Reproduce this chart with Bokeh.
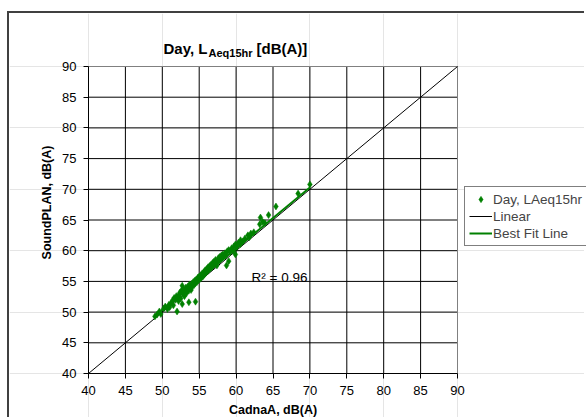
import math
from bokeh.plotting import figure
from bokeh.models import (Range1d, FixedTicker, Label, Legend, LegendItem,
                          LinearAxis)
from bokeh.embed import file_html
from bokeh.resources import INLINE

# ---------------- data ----------------
TITLE_MAIN = "Day, L"
TITLE_SUB = "Aeq15hr"
TITLE_TAIL = "[dB(A)]"
X_LABEL = "CadnaA, dB(A)"
Y_LABEL = "SoundPLAN, dB(A)"
SERIES_NAME = "Day, LAeq15hr"
LINEAR_NAME = "Linear"
FIT_NAME = "Best Fit Line"
R2_TEXT = "R\u00b2 = 0.96"
TICKS = [40, 45, 50, 55, 60, 65, 70, 75, 80, 85, 90]
AX_MIN, AX_MAX = 40, 90

cadna = [49.0, 49.3, 49.6, 49.8, 50.2, 50.4, 50.7, 50.9, 51.0, 51.2,
         51.4, 51.5, 51.6, 51.8, 51.9, 52.0, 52.1, 52.2, 52.3, 52.4,
         52.5, 52.6, 52.7, 52.7, 52.8, 52.9, 53.0, 53.1, 53.2, 53.3,
         53.4, 53.5, 53.6, 53.6, 53.7, 53.8, 53.9, 54.0, 54.1, 54.2,
         54.3, 54.5, 54.4, 54.5, 54.6, 54.7, 54.8, 54.9, 55.0, 55.1,
         55.2, 55.3, 55.4, 55.5, 55.6, 55.7, 55.8, 55.9, 56.0, 56.1,
         56.2, 56.3, 56.4, 56.5, 56.6, 56.7, 56.8, 56.9, 57.0, 57.1,
         57.2, 57.3, 57.4, 57.5, 57.6, 57.7, 57.8, 57.9, 58.0, 58.1,
         58.2, 58.3, 58.5, 58.6, 58.7, 58.8, 59.0, 59.0, 59.2, 59.4,
         59.6, 59.7, 59.9, 59.9, 60.1, 60.3, 60.6, 60.6, 60.9, 61.2,
         61.6, 61.8, 62.0, 62.4, 63.2, 63.3, 63.6, 63.9, 64.4, 65.4,
         68.4, 70.0]
soundplan = [49.3, 49.6, 50.1, 49.7, 50.6, 50.9, 50.5, 51.2, 50.8, 51.5,
             51.9, 51.1, 52.3, 52.0, 52.6, 50.1, 52.4, 51.8, 52.9, 53.2,
             52.2, 53.5, 51.3, 54.3, 53.0, 53.7, 52.6, 53.4, 54.0, 53.1,
             53.8, 54.2, 51.6, 53.5, 54.5, 54.0, 53.6, 54.6, 54.2, 54.9,
             54.4, 51.7, 55.1, 54.7, 55.3, 54.9, 55.6, 55.2, 55.8, 55.4,
             56.0, 55.6, 56.3, 55.8, 56.5, 56.1, 56.8, 56.4, 57.0, 56.6,
             57.3, 56.9, 57.5, 57.1, 57.7, 57.3, 58.0, 57.6, 58.2, 57.8,
             58.5, 58.0, 57.6, 58.3, 58.8, 58.4, 59.0, 58.6, 59.2, 58.8,
             59.4, 59.0, 59.6, 59.2, 57.6, 59.9, 58.3, 60.1, 59.8, 60.4,
             60.0, 60.7, 59.4, 61.0, 60.6, 61.3, 61.1, 61.7, 61.5, 62.0,
             62.5, 62.2, 62.8, 63.0, 64.3, 65.4, 64.7, 64.5, 65.8, 67.2,
             69.3, 70.8]

linear_x = [40, 90]
linear_y = [40, 90]
fit_x = [49.0, 70.0]
fit_y = [49.4, 70.3]

GREEN = "#008000"
FONT = "Liberation Sans"

# ---------------- layout (canvas pixels) ----------------
W, H = 577, 406
PA_LEFT, PA_RIGHT, PA_TOP, PA_BOTTOM = 79, 448, 53, 360   # plot area inside canvas
kx = (PA_RIGHT - PA_LEFT) / (AX_MAX - AX_MIN)
ky = (PA_BOTTOM - PA_TOP) / (AX_MAX - AX_MIN)
x_range = Range1d(AX_MIN - PA_LEFT / kx, AX_MAX + (W - PA_RIGHT) / kx)
y_range = Range1d(AX_MIN - (H - PA_BOTTOM) / ky, AX_MAX + PA_TOP / ky)

p = figure(width=W, height=H, output_backend="svg", toolbar_location=None,
           x_range=x_range, y_range=y_range,
           x_axis_location=None, y_axis_location=None,
           min_border=0)
p.styles = {"border-left": "2px solid #404040", "border-top": "2px solid #404040",
            "margin-left": "7px", "margin-top": "11px"}
p.background_fill_color = "white"
p.border_fill_color = "white"
p.outline_line_color = None

# grid lines of the plot area (inner ones black, outer border grey)
inner = TICKS[1:-1]
n = len(inner)
p.segment(x0=inner, y0=[AX_MIN] * n, x1=inner, y1=[AX_MAX] * n,
          line_color="black", line_width=1)
p.segment(x0=[AX_MIN] * n, y0=inner, x1=[AX_MAX] * n, y1=inner,
          line_color="black", line_width=1)
p.segment(x0=[AX_MIN, AX_MAX], y0=[AX_MAX, AX_MIN], x1=[AX_MAX, AX_MAX],
          y1=[AX_MAX, AX_MAX], line_color="#808080", line_width=1)

ticker = FixedTicker(ticks=TICKS)
xaxis = LinearAxis(fixed_location=AX_MIN, bounds=(AX_MIN, AX_MAX), ticker=ticker)
yaxis = LinearAxis(fixed_location=AX_MIN, bounds=(AX_MIN, AX_MAX), ticker=ticker)
for ax in (xaxis, yaxis):
    ax.axis_line_color = "black"
    ax.major_tick_line_color = "black"
    ax.major_tick_in = 0
    ax.major_tick_out = 5
    ax.minor_tick_line_color = None
    ax.major_label_text_font = FONT
    ax.major_label_text_font_size = "13px"
    ax.major_label_text_color = "black"
    ax.major_label_standoff = 7
p.add_layout(xaxis, "below")
p.add_layout(yaxis, "left")

r_lin = p.line(linear_x, linear_y, line_color="black", line_width=1)
r_pts = p.scatter(cadna, soundplan, marker="diamond", size=7,
                  fill_color=GREEN, line_color=GREEN, line_width=0.5)
r_fit = p.line(fit_x, fit_y, line_color=GREEN, line_width=2)

legend = Legend(items=[LegendItem(label=SERIES_NAME, renderers=[r_pts]),
                       LegendItem(label=LINEAR_NAME, renderers=[r_lin]),
                       LegendItem(label=FIT_NAME, renderers=[r_fit])],
                location=(455, 173))
legend.border_line_color = "black"
legend.border_line_width = 1
legend.background_fill_color = "white"
legend.background_fill_alpha = 1
legend.label_text_font = FONT
legend.label_text_font_size = "13.5px"
legend.label_height = 16
legend.glyph_height = 16
legend.glyph_width = 23
legend.label_standoff = 1
legend.spacing = 1
legend.padding = 4
legend.margin = 0
p.add_layout(legend)

def lab(x, y, text, size, bold=False, align="left", baseline="alphabetic", angle=0.0):
    p.add_layout(Label(x=x, y=y, x_units="screen", y_units="screen", text=text,
                       text_font=FONT, text_font_size=size,
                       text_font_style="bold" if bold else "normal",
                       text_align=align, text_baseline=baseline, angle=angle,
                       text_color="black"))

# title with subscript
lab(154, 371, TITLE_MAIN, "15px", bold=True)
lab(199, 367, TITLE_SUB, "11px", bold=True)
lab(247, 371, TITLE_TAIL, "15px", bold=True)

# axis titles
lab(263.5, 10, X_LABEL, "12.5px", bold=True, align="center", baseline="middle")
lab(37, 217, Y_LABEL, "12.5px", bold=True, align="center", baseline="middle",
    angle=math.pi / 2)

# R^2 annotation
lab(242, 142, R2_TEXT, "13.5px")

open("out.html", "w").write(file_html(p, INLINE))
